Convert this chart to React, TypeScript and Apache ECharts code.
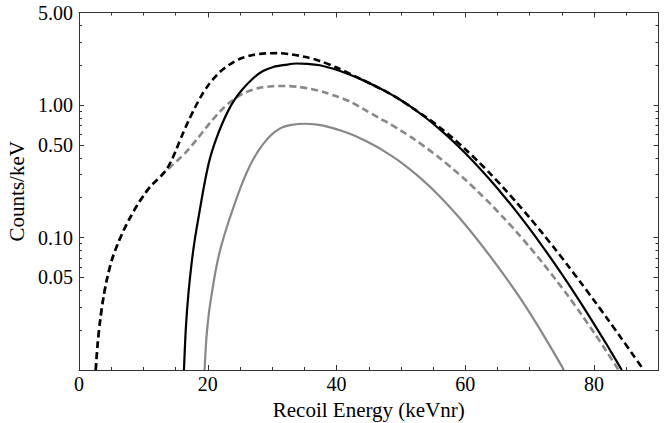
import React, { useEffect, useRef } from "react";
import * as echarts from "echarts";

// Black dashed curve (energy keVnr, counts/keV)
const blackDashedE = [2.6, 2.9, 3.3, 3.8, 4.4, 5.1, 6.0, 7.0, 8.0, 9.0, 10.0, 11.0, 12.0, 12.8, 13.6, 14.4, 15.2, 16.0, 17.0, 18.0, 19.0, 20.0, 21.0, 22.0, 23.5, 25.0, 27.0, 29.0, 31.0, 33.0, 35.0, 37.4, 40.0, 43.0, 46.7, 48, 50, 52, 54, 56, 58, 60, 62, 64, 66, 68, 70, 72, 74, 76, 78, 80, 82, 84, 86, 87.7];
const blackDashedC = [0.01, 0.0158, 0.024, 0.0355, 0.05, 0.0676, 0.0891, 0.115, 0.143, 0.174, 0.2065, 0.24, 0.269, 0.2938, 0.3273, 0.3846, 0.4732, 0.5888, 0.759, 0.955, 1.175, 1.396, 1.603, 1.8, 2.04, 2.239, 2.388, 2.455, 2.466, 2.415, 2.317, 2.153, 1.92, 1.64, 1.34, 1.242, 1.088, 0.937, 0.805, 0.681, 0.566, 0.4637, 0.3748, 0.2987, 0.2351, 0.183, 0.1409, 0.1074, 0.0812, 0.0608, 0.0452, 0.03344, 0.0246, 0.018, 0.0131, 0.01];

// Black solid curve
const blackSolidE = [16.3, 16.6, 17.0, 17.5, 18.0, 18.7, 19.5, 20.3, 21.2, 22.2, 23.2, 24.3, 25.5, 27.1, 28.5, 30.2, 32.0, 33.8, 35.5, 37.4, 39.5, 41.6, 44, 46.7, 48, 50, 52, 54, 56, 58, 60, 62, 64, 66, 68, 70, 72, 74, 76, 78, 80, 82, 84.3];
const blackSolidC = [0.01, 0.0209, 0.038, 0.0646, 0.0977, 0.155, 0.257, 0.389, 0.537, 0.716, 0.912, 1.122, 1.334, 1.6, 1.8, 1.94, 2.01, 2.06, 2.05, 2.0, 1.88, 1.73, 1.55, 1.34, 1.242, 1.088, 0.937, 0.792, 0.658, 0.538, 0.4329, 0.3426, 0.2672, 0.2052, 0.1554, 0.1161, 0.0855, 0.0622, 0.0447, 0.0317, 0.0222, 0.01543, 0.01];

// Gray dashed curve
const grayDashedE = [2.6, 2.9, 3.3, 3.8, 4.4, 5.1, 6.0, 7.0, 8.0, 9.0, 10.0, 11.0, 12.0, 12.8, 13.6, 14.5, 15.5, 16.5, 17.5, 18.5, 19.5, 20.5, 21.5, 22.5, 23.5, 24.5, 25.5, 26.5, 28.0, 30.0, 32.0, 34.0, 36.0, 38.0, 40.0, 42.0, 44.0, 46.7, 48, 50, 52, 54, 56, 58, 60, 62, 64, 66, 68, 70, 72, 74, 76, 78, 80, 82, 83.8];
const grayDashedC = [0.01, 0.0158, 0.024, 0.0355, 0.05, 0.0676, 0.0891, 0.115, 0.143, 0.174, 0.2065, 0.24, 0.269, 0.2938, 0.322, 0.352, 0.39, 0.435, 0.495, 0.567, 0.652, 0.75, 0.853, 0.956, 1.057, 1.148, 1.222, 1.282, 1.349, 1.387, 1.393, 1.374, 1.324, 1.253, 1.164, 1.067, 0.944, 0.794, 0.733, 0.642, 0.555, 0.473, 0.399, 0.332, 0.273, 0.221, 0.1774, 0.14, 0.1096, 0.0845, 0.0644, 0.0484, 0.036, 0.0264, 0.0191, 0.01365, 0.01];

// Gray solid curve
const graySolidE = [19.5, 19.8, 20.2, 20.7, 21.3, 22.0, 23.0, 24.0, 25.0, 26.0, 27.0, 28.0, 29.0, 30.0, 31.5, 33.0, 35.0, 37.0, 39.0, 41.0, 43.0, 45.0, 47, 50, 53, 56, 59, 62, 65, 68, 71, 74, 75.3];
const graySolidC = [0.01, 0.0178, 0.0275, 0.0398, 0.0589, 0.0832, 0.1216, 0.17, 0.2317, 0.3055, 0.3846, 0.4624, 0.537, 0.6026, 0.676, 0.708, 0.723, 0.711, 0.679, 0.634, 0.581, 0.5212, 0.4613, 0.3698, 0.2818, 0.2051, 0.1422, 0.0946, 0.0608, 0.038, 0.0226, 0.0129, 0.01];

const yMajorTicks = [0.05, 0.1, 0.5, 1, 5];
const yMinorTicks = [0.02, 0.03, 0.04, 0.06, 0.07, 0.08, 0.09, 0.2, 0.3, 0.4, 0.6, 0.7, 0.8, 0.9, 2, 3, 4];

const FONT = "'Liberation Serif', 'Times New Roman', serif";
const AXIS_COLOR = "#333";

const pairs = (xs: number[], ys: number[]) => xs.map((x, i) => [x, ys[i]]);

export default function App() {
  const ref = useRef<HTMLDivElement>(null);
  useEffect(() => {
    if (!ref.current) return;
    const chart = echarts.init(ref.current, null, { renderer: "svg" });
    const yBase = (extra: any) => ({
      type: "log",
      logBase: 10,
      min: 0.01,
      max: 5,
      splitLine: { show: false },
      axisLine: { show: true, lineStyle: { color: AXIS_COLOR, width: 1 } },
      ...extra,
    });
    const xBase = (extra: any) => ({
      type: "value",
      min: 0,
      max: 90,
      interval: 20,
      splitLine: { show: false },
      minorSplitLine: { show: false },
      axisLine: { show: true, onZero: false, lineStyle: { color: AXIS_COLOR, width: 1 } },
      axisTick: { show: true, inside: true, length: 5, lineStyle: { color: AXIS_COLOR } },
      minorTick: { show: true, splitNumber: 4, length: 3, lineStyle: { color: AXIS_COLOR } },
      ...extra,
    });
    const lineSeries = (name: string, xs: number[], ys: number[], color: string, width: number, type: any, z: number) => ({
      type: "line",
      name,
      data: pairs(xs, ys),
      showSymbol: false,
      smooth: 0.3,
      clip: true,
      lineStyle: { color, width, type },
      z,
    });
    chart.setOption({
      animation: false,
      backgroundColor: "#fff",
      grid: { left: 79, top: 12.5, right: 6.5, bottom: 53, containLabel: false, outerBoundsMode: "none" },
      xAxis: [
        xBase({
          position: "bottom",
          name: "Recoil Energy (keVnr)",
          nameLocation: "middle",
          nameGap: 29,
          nameTextStyle: { fontFamily: FONT, fontSize: 21, color: "#000" },
          axisLabel: { show: true, showMaxLabel: false, fontFamily: FONT, fontSize: 20, color: "#000", margin: 4 },
        }),
        xBase({ position: "top", axisLabel: { show: false } }),
      ],
      yAxis: [
        yBase({
          position: "left",
          name: "Counts/keV",
          nameLocation: "middle",
          nameGap: 46,
          nameTextStyle: { fontFamily: FONT, fontSize: 21, color: "#000" },
          axisTick: { show: true, inside: true, length: 5, customValues: yMajorTicks, lineStyle: { color: AXIS_COLOR } },
          axisLabel: {
            show: true,
            customValues: yMajorTicks,
            fontFamily: FONT,
            fontSize: 20,
            color: "#000",
            margin: 6,
            formatter: (v: number) => v.toFixed(2),
          },
        }),
        yBase({
          position: "left",
          axisLine: { show: false },
          axisTick: { show: true, inside: true, length: 3, customValues: yMinorTicks, lineStyle: { color: AXIS_COLOR } },
          axisLabel: { show: false },
        }),
        yBase({
          position: "right",
          axisTick: { show: true, inside: true, length: 5, customValues: yMajorTicks, lineStyle: { color: AXIS_COLOR } },
          axisLabel: { show: false },
        }),
        yBase({
          position: "right",
          axisLine: { show: false },
          axisTick: { show: true, inside: true, length: 3, customValues: yMinorTicks, lineStyle: { color: AXIS_COLOR } },
          axisLabel: { show: false },
        }),
      ],
      series: [
        lineSeries("gray solid", graySolidE, graySolidC, "#888", 2.2, "solid", 2),
        lineSeries("gray dashed", grayDashedE, grayDashedC, "#888", 2.6, [7, 4], 3),
        lineSeries("black solid", blackSolidE, blackSolidC, "#000", 2.2, "solid", 4),
        lineSeries("black dashed", blackDashedE, blackDashedC, "#000", 2.6, [7, 4], 5),
      ],
    });
    return () => chart.dispose();
  }, []);
  return (
    <div
      ref={ref}
      style={{ position: "fixed", left: 0, top: 0, width: 665, height: 423, background: "#fff" }}
    />
  );
}
